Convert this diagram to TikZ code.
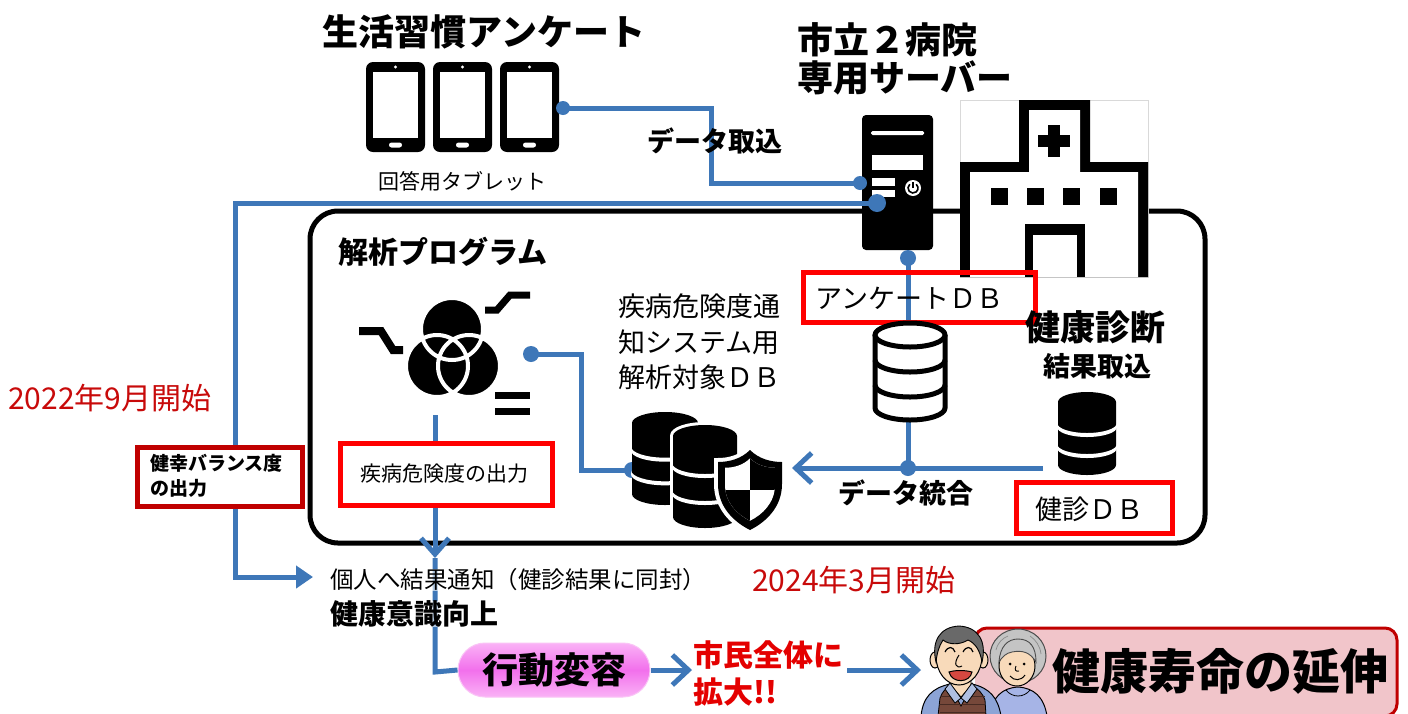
\documentclass[tikz,border=0pt]{standalone}
\usepackage{fontspec}
\newfontfamily\jp{Noto Sans CJK JP}
\usetikzlibrary{arrows.meta,calc}
\definecolor{flow}{RGB}{62,119,184}
\definecolor{boxred}{RGB}{255,0,0}
\definecolor{darkred}{RGB}{192,0,0}
\definecolor{daytxt}{RGB}{200,10,10}
\definecolor{shout}{RGB}{228,0,0}
\definecolor{pillpink}{RGB}{242,112,236}
\definecolor{pilllight}{RGB}{250,178,246}
\definecolor{banner}{RGB}{241,197,202}
\definecolor{skin}{RGB}{248,218,186}
\definecolor{shirt}{RGB}{140,164,214}
\definecolor{vest}{RGB}{118,72,58}
\definecolor{lav}{RGB}{166,180,230}
\definecolor{grayhair}{RGB}{196,196,196}
\definecolor{darkhair}{RGB}{105,105,105}
\newcommand\fsz[1]{\fontsize{#1pt}{#1pt}\selectfont}
% solid database cylinder: cx, top-ellipse y, rx, ry, body height, white rim width
\newcommand\soliddb[6]{%
  \draw[white,line width=#6] (#1-#3,#2) -- (#1-#3,#2+#5) arc[start angle=180,end angle=360,x radius=#3pt,y radius=#4pt] -- (#1+#3,#2) arc[start angle=0,end angle=180,x radius=#3pt,y radius=#4pt] -- cycle;
  \fill[black] (#1-#3,#2) -- (#1-#3,#2+#5) arc[start angle=180,end angle=360,x radius=#3pt,y radius=#4pt] -- (#1+#3,#2) arc[start angle=0,end angle=180,x radius=#3pt,y radius=#4pt] -- cycle;
  \foreach \k in {1,2}{
    \fill[white] (#1-#3-1,#2+\k*#5/3) arc[start angle=180,end angle=360,x radius=#3pt+1pt,y radius=#4pt] -- ++(0,4) arc[start angle=360,end angle=180,x radius=#3pt+1pt,y radius=#4pt] -- cycle;
  }%
}
\begin{document}
\begin{tikzpicture}[x=1pt,y=-1pt,
  lbl/.style={inner sep=0pt,font=\jp},
  flowline/.style={draw=flow,line width=5pt},
  chev/.style={-{Straight Barb[length=16pt,width=30pt]}},
  redbox/.style={draw=boxred,line width=5pt,inner sep=0pt},
  darkbox/.style={draw=darkred,line width=5pt,fill=white,inner sep=0pt},
  outl/.style={draw=black,line width=1pt}
]
\useasboundingbox (0,0) rectangle (1408,713);
\fill[white] (0,0) rectangle (1408,713);

% ---------- frame of the analysis program
\draw[line width=5pt,rounded corners=28pt] (310,211) rectangle (1205,543);

% ---------- titles
\node[lbl,font=\jp\bfseries\fsz{36}] (survey) at (484,32) {生活習慣アンケート};
\node[lbl,font=\jp\bfseries\fsz{36},anchor=west] (hosp1) at (797,40) {市立２病院};
\node[lbl,font=\jp\bfseries\fsz{36},anchor=west] (hosp2) at (797,78) {専用サーバー};

% ---------- tablets
\foreach \x/\n in {366/1,433/2,500/3}{
  \node[fill=black,rounded corners=7pt,minimum width=59pt,minimum height=90pt,inner sep=0pt] (tab\n) at (\x+29.5,107) {};
  \fill[white] (\x+7,72) rectangle (\x+52,138);
  \fill[white] (\x+29.5,67) circle (1.6pt);
  \fill[white,rounded corners=2.5pt] (\x+23,142.5) rectangle (\x+36,147.5);
}
\node[lbl,font=\jp\fsz{21}] (tabcap) at (462,181) {回答用タブレット};

% ---------- server
\node[fill=black,rounded corners=4pt,minimum width=71pt,minimum height=135pt,inner sep=0pt] (server) at (897.5,182.5) {};
\fill[white,rounded corners=1.5pt] (871,131) rectangle (924,135);
\fill[white] (872,155) rectangle (923,170);
\fill[white] (872,178) rectangle (895,186);
\fill[white] (872,190) rectangle (895,197);
\fill[white] (913,188) circle (8pt);
\draw[black,line width=1.6pt] (913,182) -- (913,188);
\draw[black,line width=1.6pt] (909.8,184.2) arc[start angle=130,end angle=410,radius=5pt];

% ---------- hospital
\draw[gray!30,line width=0.8pt] (960,100) rectangle (1148,277);
\fill[black] (1019,100) -- (1090,100) -- (1090,162) -- (1148,162) -- (1148,277) -- (960,277) -- (960,162) -- (1019,162) -- cycle;
\fill[white] (1029,110) -- (1080,110) -- (1080,172) -- (1138,172) -- (1138,277) -- (970,277) -- (970,172) -- (1029,172) -- cycle;
\fill[black] (1025,224) rectangle (1085,277);
\fill[white] (1033,235) rectangle (1077,277);
\foreach \x in {991,1027,1063,1100}{\fill[black] (\x,188) rectangle (\x+17,205);}
\fill[black] (1048,125) rectangle (1060,157);
\fill[black] (1038,135) rectangle (1070,147);
\node[inner sep=0pt,minimum width=188pt,minimum height=177pt] (hospital) at (1054,188.5) {};

% ---------- connectors from tablets and to the notice
\coordinate (tabdot) at (563,108);
\coordinate (srvin) at (860,183);
\coordinate (srvout) at (877,203);
\coordinate (leftturn) at (235,203);
\coordinate (notetip) at (313,577);
\draw[flowline] (tabdot) -| ($(tabdot)!.5!(srvin)$) |- (srvin);
\draw[flowline,-{Triangle[length=17pt,width=22pt]}] (srvout) -- (leftturn) |- (notetip);
\fill[flow] (tabdot) circle (7pt);
\fill[flow] (srvin) circle (7pt);
\fill[flow] (srvout) circle (9pt);
\node[lbl,font=\jp\bfseries\fsz{27}] (importlbl) at (715,141) {データ取込};

% ---------- survey DB line and data merge
\coordinate (srvbot) at (908,258);
\coordinate (merge) at (908,468);
\coordinate (kdbend) at (1043,468);
\coordinate (mergetip) at (792,468);
\draw[flowline] (srvbot) -- (merge);
\draw[flowline,chev] (kdbend) -- (mergetip);
\fill[flow] (srvbot) circle (8pt);
\fill[flow] (merge) circle (8pt);

% survey DB label
\node[redbox,minimum width=232pt,minimum height=50pt] (abox) at (919,297) {};
\node[lbl,font=\jp\fsz{27},anchor=west] (alabel) at (815,298) {アンケートＤＢ};

% outlined cylinder
\filldraw[fill=white,draw=black,line width=5pt] (875,335) -- (875,408) arc[start angle=180,end angle=360,x radius=35pt,y radius=12pt] -- (945,335);
\draw[line width=5pt,fill=white] (910,335) ellipse[x radius=35pt,y radius=12pt];
\draw[line width=5pt] (875,360) arc[start angle=180,end angle=360,x radius=35pt,y radius=12pt];
\draw[line width=5pt] (875,385) arc[start angle=180,end angle=360,x radius=35pt,y radius=12pt];
\node[inner sep=0pt,minimum width=75pt,minimum height=105pt] (surveydb) at (910,370) {};

% health checkup
\node[lbl,font=\jp\bfseries\fsz{35}] (kshin) at (1095,327) {健康診断};
\node[lbl,font=\jp\bfseries\fsz{27}] (ktori) at (1097,366) {結果取込};
\soliddb{1087}{402}{29}{10}{63}{0pt}
\node[inner sep=0pt,minimum width=60pt,minimum height=84pt] (kdb) at (1087,433) {};
\node[redbox,minimum width=156pt,minimum height=51pt] (kbox) at (1094,508) {};
\node[lbl,font=\jp\fsz{27},anchor=west] (klabel) at (1035,509) {健診ＤＢ};
\node[lbl,font=\jp\bfseries\fsz{27},anchor=west] (mergelbl) at (838,493) {データ統合};

% ---------- analysis program
\node[lbl,font=\jp\bfseries\fsz{30},anchor=west] (prog) at (338,252) {解析プログラム};
\fill[black] (452,329) circle (32pt) (437,366) circle (32pt) (469,366) circle (32pt);
\draw[white,line width=4pt] (452,329) circle (31pt) (437,366) circle (31pt) (469,366) circle (31pt);
\draw[line width=8pt] (359,331) -- (381,331) -- (393,350) -- (403,350);
\draw[line width=7pt] (485,310) -- (497,310) -- (510,295) -- (530,295);
\fill[black] (495,392) rectangle (530,399);
\fill[black] (495,408) rectangle (530,415);
\node[inner sep=0pt,minimum width=95pt,minimum height=100pt] (venn) at (453,348) {};

% analysis to target DB
\coordinate (progdot) at (531,354);
\coordinate (sdbin) at (632,470);
\draw[flowline] (progdot) -| ($(progdot)!.5!(sdbin)$) |- (sdbin);
\fill[flow] (progdot) circle (8pt);
\fill[flow] (sdbin) circle (8pt);

\node[lbl,font=\jp\fsz{27},anchor=west] (t1) at (618,306) {疾病危険度通};
\node[lbl,font=\jp\fsz{27},anchor=west] (t2) at (618,342) {知システム用};
\node[lbl,font=\jp\fsz{27},anchor=west] (t3) at (618,377) {解析対象ＤＢ};

% secured DB icon
\soliddb{665}{423}{33}{11}{71}{0pt}
\soliddb{705}{436}{32}{11}{81}{6pt}
\def\shieldpath{(750,450) .. controls (741,459) and (729,462) .. (718,462) -- (718,484) .. controls (718,507) and (734,522) .. (750,530) .. controls (766,522) and (782,507) .. (782,484) -- (782,462) .. controls (771,462) and (759,459) .. (750,450) -- cycle}
\draw[white,line width=8pt] \shieldpath;
\fill[black] \shieldpath;
\begin{scope}[scale around={0.78:(750,488)}]
  \fill[white] \shieldpath;
  \clip \shieldpath;
  \fill[black] (750,440) rectangle (790,490);
  \fill[black] (710,490) rectangle (750,540);
\end{scope}
\node[inner sep=0pt,minimum width=152pt,minimum height=118pt] (securedb) at (708,471) {};

% risk output
\coordinate (vennout) at (435,415);
\coordinate (downtip) at (435,558);
\coordinate (pillturn) at (435,672);
\draw[flowline,-{Straight Barb[length=16pt,width=28pt]}] (vennout) -- (downtip);
\node[redbox,fill=white,minimum width=212pt,minimum height=62pt] (rbox) at (446,474) {};
\node[lbl,font=\jp\fsz{21},anchor=west] (rlabel) at (360,474) {疾病危険度の出力};

% ---------- left branch
\node[lbl,font=\jp\fsz{30},text=daytxt,anchor=west] (start1) at (8,398) {2022年9月開始};
\node[darkbox,minimum width=165pt,minimum height=59pt] (bbox) at (219.5,476.5) {};
\node[lbl,font=\jp\bfseries\fsz{19},anchor=west] (b1) at (150,463) {健幸バランス度};
\node[lbl,font=\jp\bfseries\fsz{19},anchor=west] (b2) at (150,488) {の出力};

% ---------- notice, behaviour change, outcome
\node[shading=axis,top color=pilllight,bottom color=pilllight,middle color=pillpink,draw={rgb,255:red,250;green,196;blue,246},line width=1pt,rounded corners=27pt,minimum width=192pt,minimum height=54pt,inner sep=0pt] (pill) at (554,670) {};
\draw[flowline] (downtip) -- (pillturn) -- (pill.west);
\node[lbl,font=\jp\fsz{23.5},anchor=west,fill=white,fill opacity=0.6,text opacity=1] (notice) at (330,580) {個人へ結果通知（健診結果に同封）};
\node[lbl,font=\jp\bfseries\fsz{28},anchor=west,fill=white,fill opacity=0.6,text opacity=1] (aware) at (330,614) {健康意識向上};
\node[lbl,font=\jp\fsz{30},text=daytxt,anchor=west] (start2) at (752,580) {2024年3月開始};
\node[lbl,font=\jp\bfseries\fsz{36}] (pilltxt) at (pill.center) {行動変容};

\coordinate (tip2) at (692,670);
\draw[flowline,chev] (pill.east) -- (tip2);
\node[lbl,font=\jp\bfseries\fsz{30},text=shout,anchor=west] (city1) at (693,655) {市民全体に};
\node[lbl,font=\jp\bfseries\fsz{30},text=shout,anchor=west] (city2) at (693,692) {拡大!!};
\coordinate (from3) at (847,670);
\coordinate (tip3) at (921,670);
\draw[flowline,chev] (from3) -- (tip3);

% banner
\fill[banner] (975,716) -- (975,640) arc[start angle=180,end angle=90,radius=12pt] -- (1385,628) arc[start angle=90,end angle=0,radius=12pt] -- (1397,704) arc[start angle=0,end angle=-90,radius=12pt] -- cycle;
\draw[darkred,line width=3pt] (975,660) -- (975,640) arc[start angle=180,end angle=90,radius=12pt] -- (1385,628) arc[start angle=90,end angle=0,radius=12pt] -- (1397,704) arc[start angle=0,end angle=-90,radius=12pt];

% elderly woman
\filldraw[fill=lav,outl] (990,716) .. controls (992,697) and (1002,688) .. (1018,687) .. controls (1034,688) and (1044,697) .. (1047,716) -- cycle;
\draw[line width=0.8pt] (1006,690) .. controls (1012,698) and (1024,698) .. (1030,690);
\filldraw[fill=grayhair,draw=black!70,line width=1pt] (1018,656) ellipse[x radius=28pt,y radius=27pt];
\draw[black!45,line width=0.7pt] (996,650) .. controls (998,642) and (1003,638) .. (1008,636) (1030,636) .. controls (1036,640) and (1040,646) .. (1041,654);
\filldraw[fill=skin,outl] (1017,666) ellipse[x radius=18pt,y radius=20pt];
\filldraw[fill=grayhair,draw=black!70,line width=0.9pt] (999,662) .. controls (1000,646) and (1008,639) .. (1018,639) .. controls (1030,639) and (1036,647) .. (1036,662) .. controls (1030,652) and (1022,650) .. (1012,652) .. controls (1006,653) and (1002,657) .. (999,662) -- cycle;
\fill (1010,664) circle (1.5pt);
\fill (1024,664) circle (1.5pt);
\draw[line width=0.9pt] (1016,666) .. controls (1014,670) and (1016,672) .. (1019,671);
\draw[line width=1pt] (1010,676) .. controls (1014,681) and (1021,681) .. (1025,675);
\node[inner sep=0pt,minimum width=58pt,minimum height=86pt] (woman) at (1018,672) {};

% elderly man
\filldraw[fill=shirt,outl] (921,716) .. controls (923,697) and (932,688) .. (950,684) -- (972,684) .. controls (990,688) and (998,698) .. (1001,716) -- cycle;
\filldraw[fill=vest,draw=black,line width=0.8pt] (938,716) -- (940,698) .. controls (942,692) and (946,688) .. (950,686) -- (961,706) -- (972,686) .. controls (978,688) and (983,694) .. (985,700) -- (986,716) -- cycle;
\foreach \yy in {696,704,712}{\draw[vest!60!black,line width=0.6pt] (940,\yy) -- (985,\yy);}
\filldraw[fill=skin,draw=black,line width=0.8pt] (951,674) -- (951,686) -- (961,697) -- (971,686) -- (971,674) -- cycle;
\filldraw[fill=shirt!70!white,draw=black,line width=0.8pt] (950,683) -- (961,698) -- (955,703) -- (945,689) -- cycle;
\filldraw[fill=shirt!70!white,draw=black,line width=0.8pt] (972,683) -- (961,698) -- (967,703) -- (977,689) -- cycle;
\filldraw[fill=skin,outl] (935,660) ellipse[x radius=5pt,y radius=8pt];
\filldraw[fill=skin,outl] (983,660) ellipse[x radius=5pt,y radius=8pt];
\filldraw[fill=skin,outl] (959,656) ellipse[x radius=23pt,y radius=29pt];
\filldraw[fill=darkhair,draw=black,line width=0.9pt] (936,662) .. controls (931,641) and (940,627) .. (959,626) .. controls (978,627) and (987,641) .. (982,662) .. controls (980,650) and (975,643) .. (968,640) .. controls (960,645) and (949,645) .. (943,640) .. controls (939,646) and (937,653) .. (936,662) -- cycle;
\draw[line width=1.2pt] (945,652) .. controls (948,646) and (953,646) .. (955,652);
\draw[line width=1.2pt] (963,652) .. controls (966,646) and (971,646) .. (973,652);
\draw[line width=1pt] (959,655) .. controls (953,664) and (956,669) .. (962,666);
\filldraw[fill={rgb,255:red,214;green,72;blue,64},draw=black,line width=1pt] (949,672) .. controls (955,670) and (965,670) .. (972,672) .. controls (970,683) and (952,684) .. (949,672) -- cycle;
\node[inner sep=0pt,minimum width=80pt,minimum height=90pt] (man) at (961,670) {};

% banner text
\node[lbl,font=\jp\bfseries\fsz{48},anchor=west] (goal) at (1052,671) {健康寿命の延伸};
\end{tikzpicture}
\end{document}
